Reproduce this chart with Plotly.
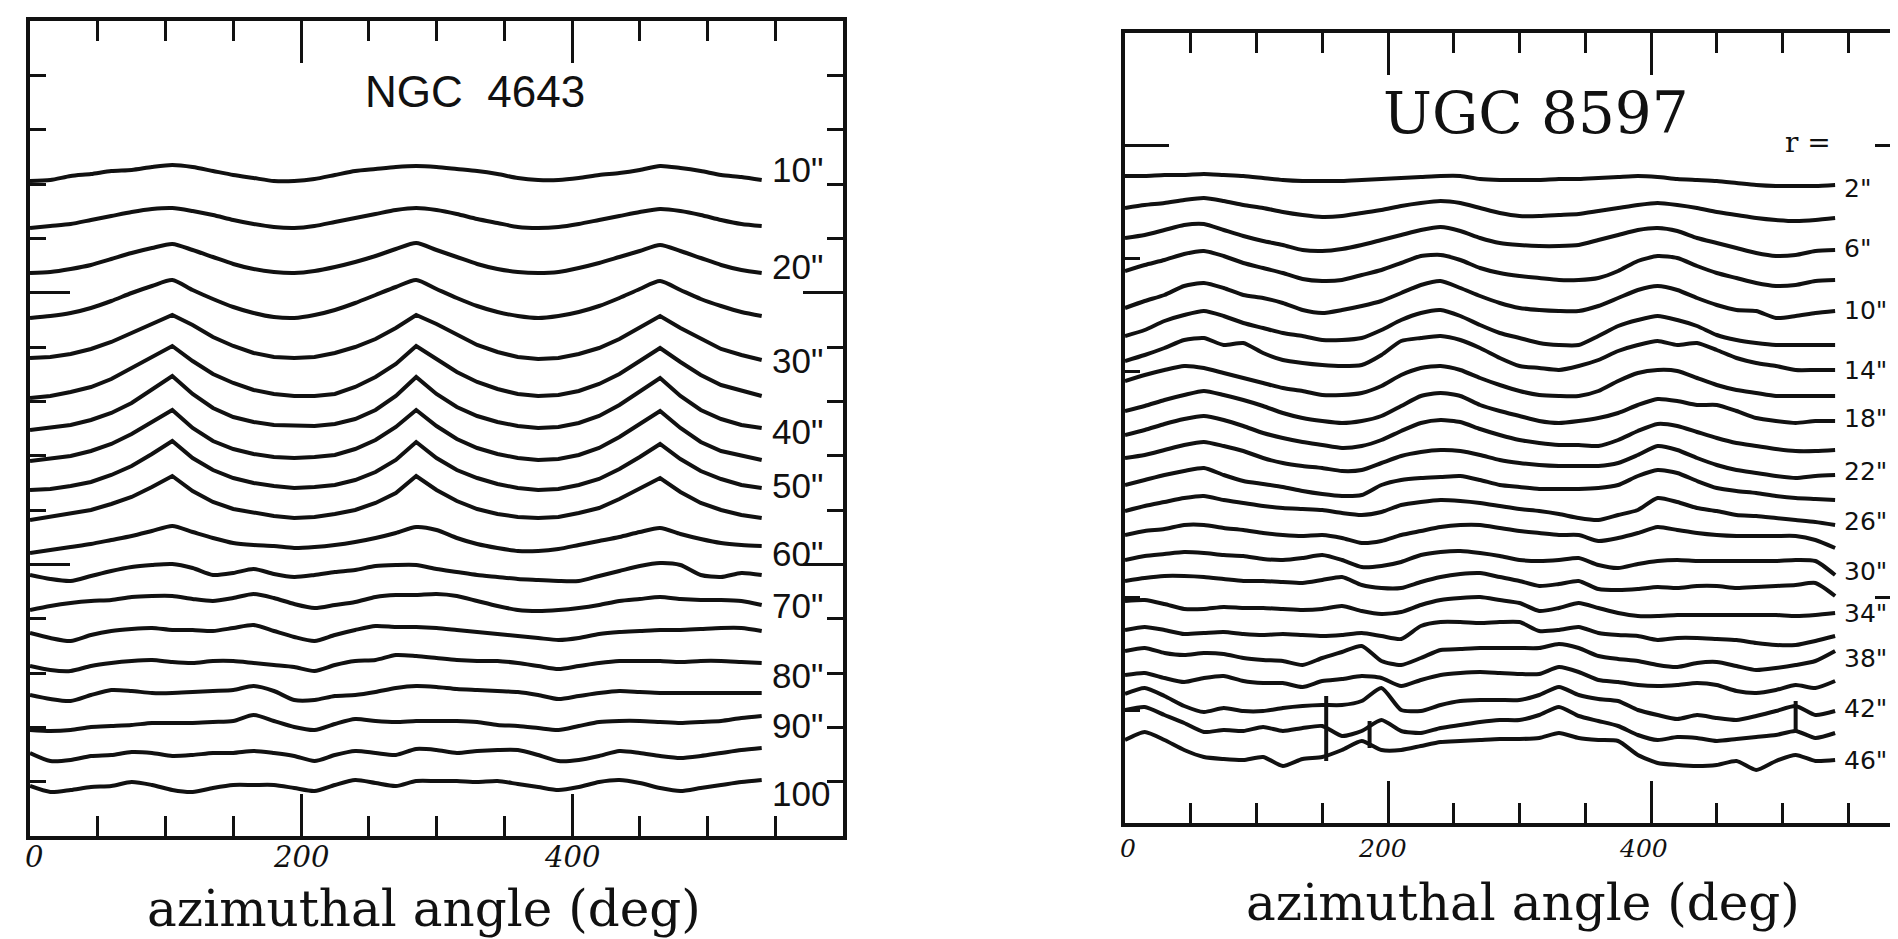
import plotly.graph_objects as go

W, H = 1898, 939

# ---------------- data ----------------
angles = [0, 15, 30, 45, 60, 75, 90, 105, 120, 135, 150, 165, 180, 195, 210, 225, 240, 255,
          270, 285, 300, 315, 330, 345, 360, 375, 390, 405, 420, 435, 450, 465, 480, 495, 510, 525, 540]

# NGC 4643: profile level (arbitrary units) and deviations for r = 10" ... 100" (step 5")
ngc_radii = [10, 15, 20, 25, 30, 35, 40, 45, 50, 55, 60, 65, 70, 75, 80, 85, 90, 95, 100]
ngc_level = [656, 608, 563, 519, 478, 440, 408, 376, 347, 319, 286, 261, 228, 203, 170, 140, 111, 82, 51]

ngc_r10 = [-1,0,4,6,9,10,13,15,13,9,5,2,-1,-1,1,5,9,11,13,14,13,11,9,6,2,0,0,2,5,7,10,14,12,9,5,3,0]
ngc_r15 = [0,2,4,8,12,16,19,20,17,13,8,4,1,0,2,6,10,14,18,20,18,14,9,5,1,0,1,4,8,12,16,19,17,13,8,4,2]
ngc_r20 = [0,1,4,8,14,20,25,29,23,16,9,4,1,0,2,6,11,17,24,30,23,16,9,4,1,0,1,5,10,16,22,28,22,15,8,3,0]
ngc_r25 = [-1,1,4,9,16,24,31,37,27,18,10,4,0,-1,2,7,14,22,30,37,28,19,11,5,1,-1,1,5,11,19,28,36,27,18,11,5,1]
ngc_r30 = [0,1,4,9,16,25,35,43,33,21,12,5,1,0,1,5,11,19,30,43,34,23,13,6,1,-1,0,4,10,19,30,42,30,19,9,3,-2]
ngc_r35 = [-2,0,4,9,17,28,39,50,35,22,13,6,2,0,0,2,9,19,32,50,37,24,14,7,2,0,1,5,12,22,35,48,34,21,11,5,0]
ngc_r40 = [-2,0,3,8,15,25,38,52,34,20,11,6,3,2,2,4,9,18,32,51,34,21,12,6,2,0,1,5,12,23,36,50,32,18,9,3,0]
ngc_r45 = [-1,1,4,9,16,26,38,50,32,19,11,6,3,2,3,5,11,20,33,50,34,21,12,6,2,0,1,5,12,23,36,49,32,18,9,4,0]
ngc_r50 = [-1,0,3,7,14,23,35,48,31,19,11,6,3,1,2,4,9,17,29,47,31,19,11,5,1,-1,0,4,10,20,32,45,30,18,10,4,1]
ngc_r55 = [-3,0,3,7,13,20,30,41,26,15,8,4,1,-1,0,3,7,14,24,41,27,16,8,3,0,-1,0,4,9,18,28,39,25,14,7,2,-1]
ngc_r60 = [-3,0,3,6,10,14,19,24,18,12,7,5,4,2,3,5,8,12,17,23,20,12,6,2,-1,-1,1,5,9,13,18,22,16,11,7,5,4]
ngc_r65 = [0,-4,-6,-1,4,8,10,11,7,0,2,6,1,-2,0,3,5,9,10,10,6,3,0,-2,-4,-5,-6,-6,-1,4,9,12,10,0,-2,2,0]
ngc_r70 = [-2,2,5,7,8,11,12,12,9,7,10,14,10,4,0,3,6,11,13,13,14,12,7,2,-2,-3,-2,0,3,7,9,11,9,8,8,7,3]
ngc_r75 = [0,-5,-8,-2,2,4,5,3,3,2,5,8,2,-4,-8,-2,3,7,6,6,5,3,1,-1,-3,-5,-7,-5,-1,1,2,3,3,4,5,5,2]
ngc_r80 = [0,-4,-5,0,3,5,6,4,3,5,5,3,1,-1,-5,1,5,6,11,10,8,6,5,5,3,0,-3,0,3,5,5,5,4,5,5,4,3]
ngc_r85 = [1,-3,-5,1,6,5,3,3,4,5,6,10,5,-4,-4,0,1,4,8,10,9,7,6,5,4,1,-3,0,3,5,4,3,3,3,3,3,3]
ngc_r90 = [-5,-6,-5,-2,-1,0,2,2,2,3,4,10,4,-2,-5,1,6,4,3,4,4,4,3,0,-1,-3,-5,-1,3,4,4,3,2,3,4,7,9]
ngc_r95 = [1,-7,-6,-2,-1,2,1,-2,-1,1,1,3,1,-2,-7,-1,3,1,-1,5,4,1,3,4,4,-1,-7,-6,-2,3,1,-2,-4,-2,1,4,6]
ngc_r100 = [-1,-7,-5,-2,-1,3,0,-5,-7,-3,0,0,0,-3,-6,0,5,2,-1,4,4,4,3,4,1,-2,-5,-2,3,5,2,-3,-6,-3,0,3,5]

ngc_profiles = [ngc_r10, ngc_r15, ngc_r20, ngc_r25, ngc_r30, ngc_r35, ngc_r40, ngc_r45, ngc_r50,
                ngc_r55, ngc_r60, ngc_r65, ngc_r70, ngc_r75, ngc_r80, ngc_r85, ngc_r90, ngc_r95, ngc_r100]
# profiles with a sharp (cusp-like) bar peak
ngc_cusped = [30, 35, 40, 45, 50, 55]

ngc_label_text = ['10"', '20"', '30"', '40"', '50"', '60"', '70"', '80"', '90"', '100']
ngc_label_level = [667, 570, 476, 405, 351, 283, 231, 161, 111, 43]

# UGC 8597: r = 2" ... 46" (step 2")
ugc_radii = [2, 4, 6, 8, 10, 12, 14, 16, 18, 20, 22, 24, 26, 28, 30, 32, 34, 36, 38, 40, 42, 44, 46]
ugc_level = [645, 615, 585, 552, 515, 487, 462, 440, 412, 388, 365, 338, 312, 288, 263, 240, 220, 193, 172, 148, 128, 113, 83]

ugc_r2 = [2,2,3,3,4,3,2,0,-2,-3,-3,-3,-2,-1,0,1,2,2,-1,-2,-2,-2,-1,-1,0,1,2,1,-1,-2,-3,-5,-7,-8,-8,-8,-7]
ugc_r4 = [0,3,5,8,10,7,3,0,-4,-7,-9,-8,-5,-2,2,5,7,5,0,-5,-8,-8,-7,-6,-3,0,3,5,3,0,-4,-7,-10,-12,-13,-12,-10]
ugc_r6 = [0,3,8,13,14,8,2,-3,-7,-12,-13,-11,-7,-2,3,8,11,7,0,-5,-7,-8,-8,-7,-2,3,8,10,7,0,-5,-10,-15,-18,-17,-13,-12]
ugc_r8 = [0,6,11,17,20,15,8,3,-2,-8,-10,-9,-4,1,8,15,16,11,3,-2,-5,-7,-9,-9,-7,0,10,15,13,5,-2,-7,-12,-15,-14,-10,-9]
ugc_r10 = [0,7,13,22,25,20,13,10,5,-2,-5,-2,2,7,15,23,27,20,12,5,0,-2,-3,-3,2,10,18,22,18,10,3,-2,-3,-10,-8,-5,-3]
ugc_r12 = [0,6,15,21,25,20,13,8,3,0,-4,-4,-2,6,16,23,26,20,11,3,-2,-7,-9,-9,0,10,16,20,16,10,1,-4,-7,-9,-9,-9,-9]
ugc_r14 = [0,6,13,21,23,16,18,8,1,-2,-4,-5,-4,6,20,23,25,21,13,3,-5,-7,-9,-5,1,10,16,20,16,18,11,3,-2,-5,-9,-9,-9]
ugc_r16 = [2,8,13,17,15,10,5,0,-5,-8,-12,-12,-10,-3,8,15,17,13,5,-2,-8,-12,-13,-13,-8,2,10,13,12,5,-2,-7,-10,-13,-13,-13,-13]
ugc_r18 = [0,5,11,16,20,16,11,5,-2,-7,-10,-12,-10,-5,5,15,18,15,6,0,-5,-10,-12,-10,-7,-2,6,12,10,6,6,0,-7,-10,-12,-10,-10]
ugc_r20 = [0,5,11,16,19,15,9,2,-3,-7,-10,-13,-11,-5,4,12,15,13,6,0,-5,-8,-10,-10,-11,-5,4,11,9,3,-3,-8,-11,-14,-16,-16,-15]
ugc_r22 = [0,3,8,13,16,12,7,0,-5,-8,-10,-13,-12,-5,2,6,8,7,3,-2,-5,-7,-8,-8,-8,-5,3,12,8,0,-7,-12,-15,-18,-20,-18,-17]
ugc_r24 = [0,5,10,14,17,10,4,1,-2,-6,-9,-11,-10,0,5,7,8,9,5,0,-2,-4,-4,-4,-3,0,9,15,12,4,-3,-6,-8,-11,-13,-14,-15]
ugc_r26 = [0,5,9,13,15,11,8,5,3,2,1,-2,-4,-1,6,9,11,10,8,5,2,0,-3,-7,-9,-4,1,13,9,3,0,-4,-5,-7,-9,-11,-14]
ugc_r28 = [0,4,6,10,10,7,5,2,0,-1,0,-3,-8,-6,0,4,8,10,10,7,4,2,0,0,-6,-3,2,8,5,2,0,-1,-1,-1,-1,-5,-13]
ugc_r30 = [0,4,6,8,7,5,4,1,0,2,5,0,-7,-6,-2,5,8,9,7,4,0,-1,0,2,-5,-8,-4,-1,0,-1,-1,-1,-1,-1,0,-1,-15]
ugc_r32 = [2,5,7,7,6,4,2,2,1,0,3,6,-2,-5,-5,1,6,9,10,6,2,-3,-1,2,-6,-7,-6,-4,-5,-3,-3,-5,-4,-3,-2,0,-13]
ugc_r34 = [2,3,-1,-6,-6,-4,-5,-5,-6,-7,-6,-3,-8,-11,-9,-2,3,5,6,3,0,-8,-5,0,-5,-10,-13,-13,-12,-12,-12,-12,-12,-12,-13,-12,-10]
ugc_r36 = [0,3,0,-4,-3,-2,-4,-5,-4,-5,-6,-5,-3,-6,-9,4,8,8,7,8,8,-1,0,3,-3,-5,-6,-10,-8,-8,-9,-10,-13,-15,-15,-11,-6]
ugc_r38 = [0,3,-2,-4,-2,-3,-7,-9,-10,-14,-7,-1,5,-10,-14,-7,1,2,3,3,3,3,7,3,-5,-8,-10,-14,-16,-12,-11,-15,-19,-17,-14,-10,0]
ugc_r40 = [0,2,-3,-7,-3,-1,-6,-8,-8,-12,-6,-4,-1,-3,-11,-5,0,2,3,2,1,1,8,3,-5,-7,-10,-11,-10,-8,-10,-16,-18,-15,-10,-13,-6]
ugc_r42 = [1,7,-1,-11,-17,-13,-16,-16,-13,-11,-10,-10,-6,7,-15,-16,-10,-6,-5,-5,-5,0,8,0,-4,-6,-15,-20,-24,-20,-23,-25,-21,-16,-11,-20,-16]
ugc_r44 = [0,3,-5,-13,-22,-20,-21,-17,-21,-18,-16,-26,-21,-10,-21,-23,-18,-15,-12,-10,-10,-5,3,-6,-11,-16,-25,-30,-27,-28,-31,-29,-27,-25,-21,-28,-23]
ugc_r46 = [0,8,0,-10,-17,-19,-20,-17,-26,-19,-17,-10,-1,-10,-10,-6,-2,-1,0,1,1,2,7,2,0,-1,-15,-23,-25,-26,-25,-21,-30,-21,-15,-21,-20]

ugc_profiles = [ugc_r2, ugc_r4, ugc_r6, ugc_r8, ugc_r10, ugc_r12, ugc_r14, ugc_r16, ugc_r18, ugc_r20,
                ugc_r22, ugc_r24, ugc_r26, ugc_r28, ugc_r30, ugc_r32, ugc_r34, ugc_r36, ugc_r38,
                ugc_r40, ugc_r42, ugc_r44, ugc_r46]

ugc_label_text = ['2"', '6"', '10"', '14"', '18"', '22"', '26"', '30"', '34"', '38"', '42"', '46"']
ugc_label_level = [635, 575, 513, 453, 405, 352, 302, 252, 210, 165, 115, 63]

# star-like spikes in the outer UGC 8597 profiles
ugc_spike_angle = [153, 186, 510]
ugc_spike_top = [127, 102, 122]
ugc_spike_bottom = [62, 75, 90]

# ---------------- figure ----------------
INK = "#111111"
LW = 4
fig = go.Figure()

for r, level, prof in zip(ngc_radii, ngc_level, ngc_profiles):
    shape = "linear" if r in ngc_cusped else "spline"
    fig.add_trace(go.Scatter(x=angles, y=[level + d for d in prof], mode="lines",
                             line=dict(color=INK, width=LW, shape=shape, smoothing=0.7),
                             xaxis="x", yaxis="y", showlegend=False, hoverinfo="skip"))

for level, prof in zip(ugc_level, ugc_profiles):
    fig.add_trace(go.Scatter(x=angles, y=[level + d for d in prof], mode="lines",
                             line=dict(color=INK, width=LW, shape="spline", smoothing=0.6),
                             xaxis="x2", yaxis="y2", showlegend=False, hoverinfo="skip"))

for a, t, b in zip(ugc_spike_angle, ugc_spike_top, ugc_spike_bottom):
    fig.add_trace(go.Scatter(x=[a, a], y=[t, b], mode="lines", line=dict(color=INK, width=LW),
                             xaxis="x2", yaxis="y2", showlegend=False, hoverinfo="skip"))

# invisible trace to materialise the right-hand tick axis
fig.add_trace(go.Scatter(x=[0], y=[0], mode="markers", marker=dict(opacity=0), xaxis="x2", yaxis="y3",
                         showlegend=False, hoverinfo="skip"))


def px(xp):
    return xp / W


def py(yp):
    return 1 - yp / H


u_left = 815 / 15
u_right = 790 / 7
right_range = (W - 1117) / 1.315

axis_common = dict(showline=True, linewidth=4, linecolor=INK, showgrid=False, zeroline=False,
                   ticks="inside", tickcolor=INK, tickwidth=3, showticklabels=False)

fig.update_layout(
    width=W, height=H, margin=dict(l=0, r=0, t=0, b=0),
    paper_bgcolor="white", plot_bgcolor="white",
    xaxis=dict(domain=[px(22), px(835)], range=[0, 600], anchor="y", mirror="ticks",
               tickmode="array", tickvals=[200, 400], ticklen=42,
               minor=dict(tickmode="array", tickvals=[50, 100, 150, 250, 300, 350, 450, 500, 550],
                          ticklen=20, tickwidth=3, tickcolor=INK, ticks="inside", showgrid=False),
               **axis_common),
    yaxis=dict(domain=[111 / H, 926 / H], range=[0, 815], anchor="x", mirror="ticks",
               tickmode="array", tickvals=[5 * u_left, 10 * u_left], ticklen=40,
               minor=dict(tickmode="array", tickvals=[k * u_left for k in (1, 2, 3, 4, 6, 7, 8, 9, 11, 12, 13, 14)],
                          ticklen=16, tickwidth=3, tickcolor=INK, ticks="inside", showgrid=False),
               **axis_common),
    xaxis2=dict(domain=[px(1117), 1.0], range=[0, right_range], anchor="y2", mirror="ticks",
                tickmode="array", tickvals=[200, 400], ticklen=42,
                minor=dict(tickmode="array", tickvals=[50, 100, 150, 250, 300, 350, 450, 500, 550],
                           ticklen=20, tickwidth=3, tickcolor=INK, ticks="inside", showgrid=False),
                **axis_common),
    yaxis2=dict(domain=[124 / H, 914 / H], range=[0, 790], anchor="x2", mirror=False,
                tickmode="array", tickvals=[6 * u_right], ticklen=44,
                minor=dict(tickmode="array", tickvals=[k * u_right for k in (1, 2, 4, 5)],
                           ticklen=15, tickwidth=3, tickcolor=INK, ticks="inside", showgrid=False),
                **axis_common),
    yaxis3=dict(domain=[124 / H, 914 / H], range=[0, 790], anchor="x2", overlaying="y2", side="right",
                showline=False, showgrid=False, zeroline=False, ticks="inside", tickcolor=INK,
                tickwidth=3, showticklabels=False, tickmode="array",
                tickvals=[2 * u_right, 6 * u_right], ticklen=31,
                minor=dict(tickmode="array", tickvals=[k * u_right for k in (1, 3, 4, 5)],
                           ticklen=11, tickwidth=3, tickcolor=INK, ticks="inside", showgrid=False)),
)

ann = []
# curve labels
for t, lv in zip(ngc_label_text, ngc_label_level):
    ann.append(dict(x=546, y=lv, xref="x", yref="y", text=t, showarrow=False, xanchor="left",
                    yanchor="middle", font=dict(family="Liberation Sans", size=35, color=INK)))
for t, lv in zip(ugc_label_text, ugc_label_level):
    ann.append(dict(x=545, y=lv, xref="x2", yref="y2", text=t, showarrow=False, xanchor="left",
                    yanchor="middle", font=dict(family="DejaVu Sans", size=25, color=INK)))

# panel titles
ann.append(dict(x=px(467), y=py(83), xref="paper", yref="paper", text="NGC  4643", showarrow=False,
                xanchor="center", yanchor="middle", font=dict(family="Liberation Sans", size=44, color=INK)))
ann.append(dict(x=px(1528), y=py(105), xref="paper", yref="paper", text="UGC 8597", showarrow=False,
                xanchor="center", yanchor="middle", font=dict(family="DejaVu Serif", size=58, color=INK)))
ann.append(dict(x=px(1800), y=py(134), xref="paper", yref="paper", text="r =", showarrow=False,
                xanchor="center", yanchor="middle", font=dict(family="DejaVu Serif", size=28, color=INK)))

# tick labels
for v, xpos in zip(["0", "200", "400"], [3, 200, 400]):
    ann.append(dict(x=xpos, y=py(849), xref="x", yref="paper", text=v, showarrow=False,
                    xanchor="center", yanchor="middle",
                    font=dict(family="DejaVu Serif", size=29, color=INK, style="italic")))
for v, xpos in zip(["0", "200", "400"], [2, 196, 394]):
    ann.append(dict(x=xpos, y=py(840), xref="x2", yref="paper", text=v, showarrow=False,
                    xanchor="center", yanchor="middle",
                    font=dict(family="DejaVu Serif", size=25, color=INK, style="italic")))

# axis titles
ann.append(dict(x=px(416), y=py(901), xref="paper", yref="paper", text="azimuthal angle (deg)",
                showarrow=False, xanchor="center", yanchor="middle",
                font=dict(family="DejaVu Serif", size=50, color=INK)))
ann.append(dict(x=px(1515), y=py(895), xref="paper", yref="paper", text="azimuthal angle (deg)",
                showarrow=False, xanchor="center", yanchor="middle",
                font=dict(family="DejaVu Serif", size=50, color=INK)))

fig.update_layout(annotations=ann)
fig.write_html("out.html")
